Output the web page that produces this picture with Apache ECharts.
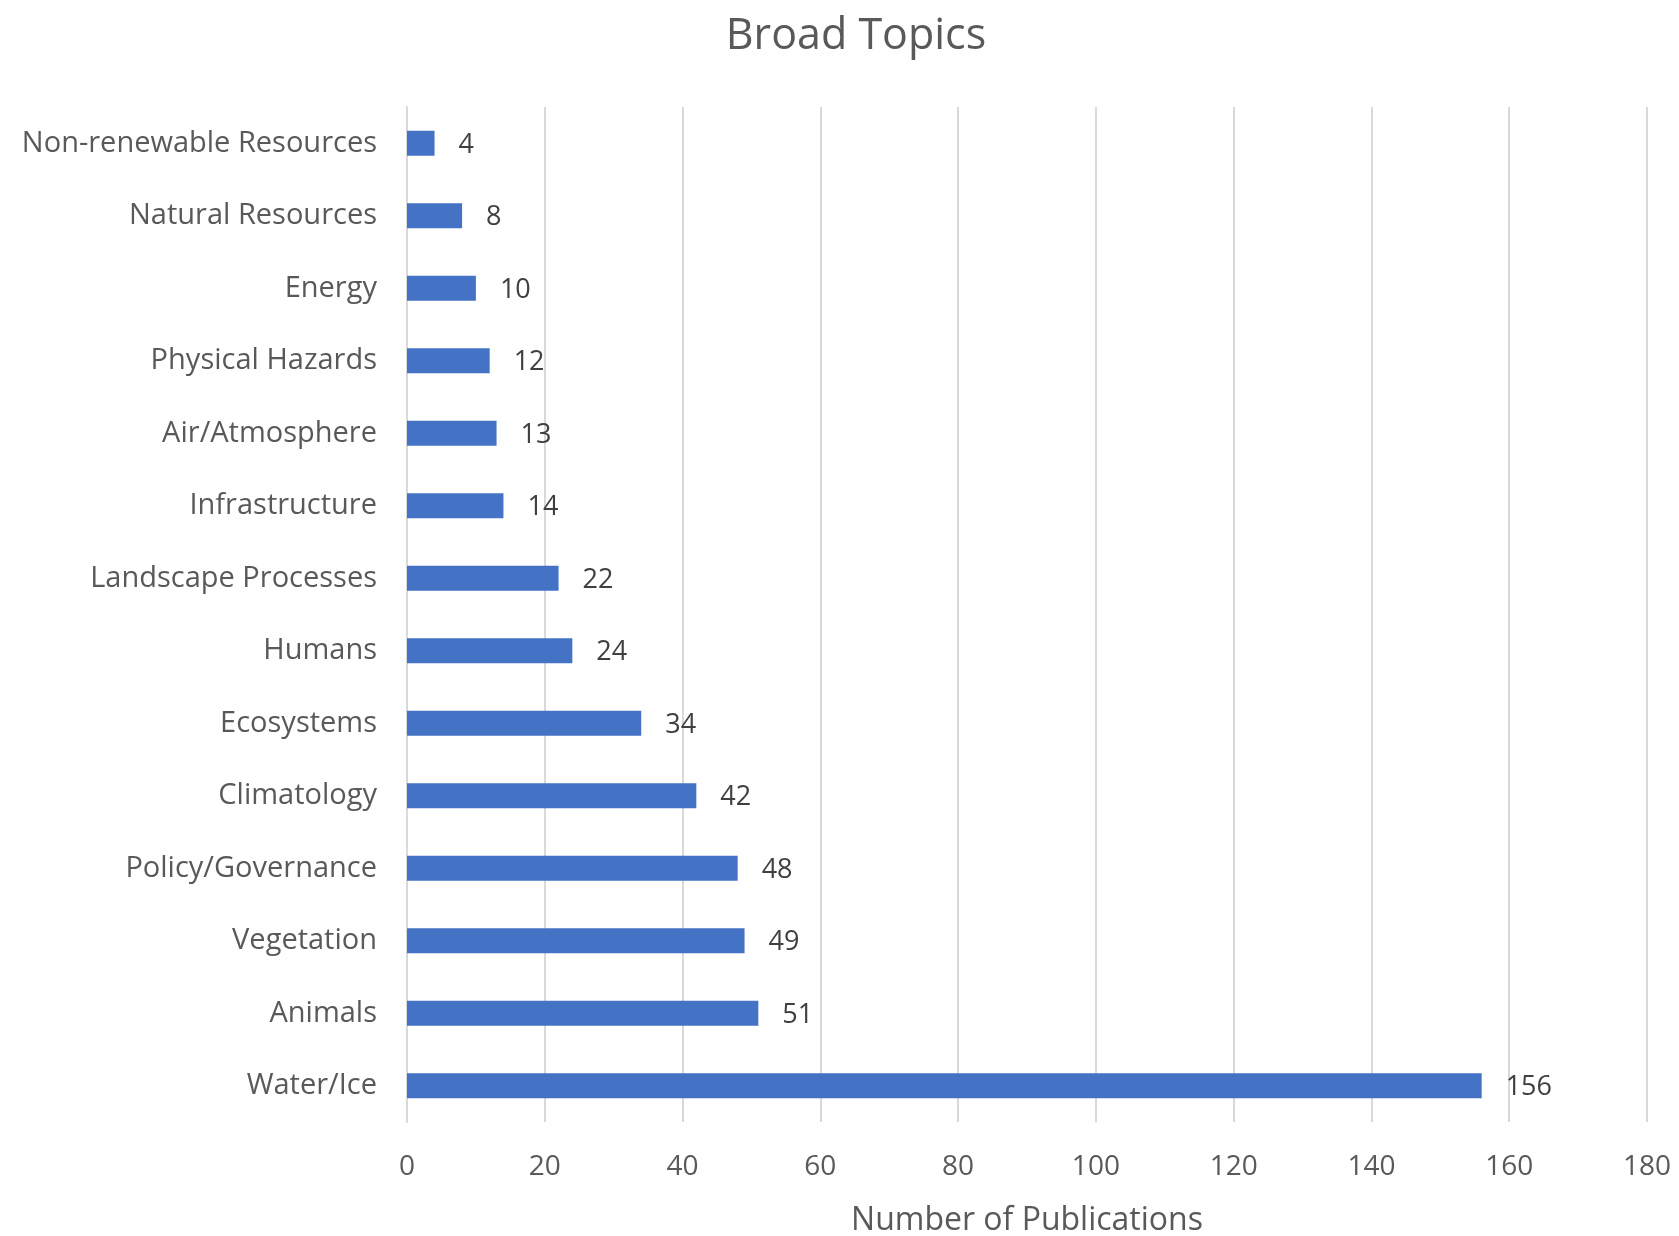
<!DOCTYPE html>
<html>
<head>
<meta charset="utf-8">
<script src="https://cdn.jsdelivr.net/npm/echarts@6/dist/echarts.min.js"></script>
<style>html,body{margin:0;padding:0;background:#fff}#c{width:1679px;height:1236px}</style>
</head>
<body>
<div id="c"></div>
<script>
const categories = ["Water/Ice","Animals","Vegetation","Policy/Governance","Climatology","Ecosystems","Humans","Landscape Processes","Infrastructure","Air/Atmosphere","Physical Hazards","Energy","Natural Resources","Non-renewable Resources"];
const publications = [156,51,49,48,42,34,24,22,14,13,12,10,8,4];
const chartTitle = "Broad Topics";
const xAxisName = "Number of Publications";

const chart = echarts.init(document.getElementById('c'));
const font = "'Open Sans', Lato, sans-serif";
chart.setOption({
  animation: false,
  title: {
    text: chartTitle, left: 851, top: 10, textAlign: 'center',
    textStyle: { fontFamily: font, fontSize: 43, fontWeight: 'normal', color: '#595959' }
  },
  grid: { left: 407, right: 32, top: 107, bottom: 114, containLabel: false, outerBoundsMode: 'none' },
  xAxis: {
    type: 'value', min: 0, max: 180, interval: 20,
    name: xAxisName, nameLocation: 'middle', nameGap: 83,
    nameTextStyle: { fontFamily: font, fontSize: 32, color: '#595959' },
    axisLine: { show: false }, axisTick: { show: false },
    axisLabel: { fontFamily: font, fontSize: 28, color: '#595959', margin: 31 },
    splitLine: { lineStyle: { color: '#d9d9d9', width: 2 } }
  },
  yAxis: {
    type: 'category', data: categories,
    axisLine: { show: true, lineStyle: { color: '#d9d9d9', width: 2 } },
    axisTick: { show: false },
    axisLabel: { fontFamily: font, fontSize: 29, color: '#595959', margin: 30 }
  },
  series: [{
    type: 'bar', data: publications, barWidth: 25,
    itemStyle: { color: '#4472C4' },
    label: { show: true, position: 'right', distance: 24, fontFamily: font, fontSize: 27, color: '#404040', offset: [0, 2] }
  }]
});
</script>
</body>
</html>
